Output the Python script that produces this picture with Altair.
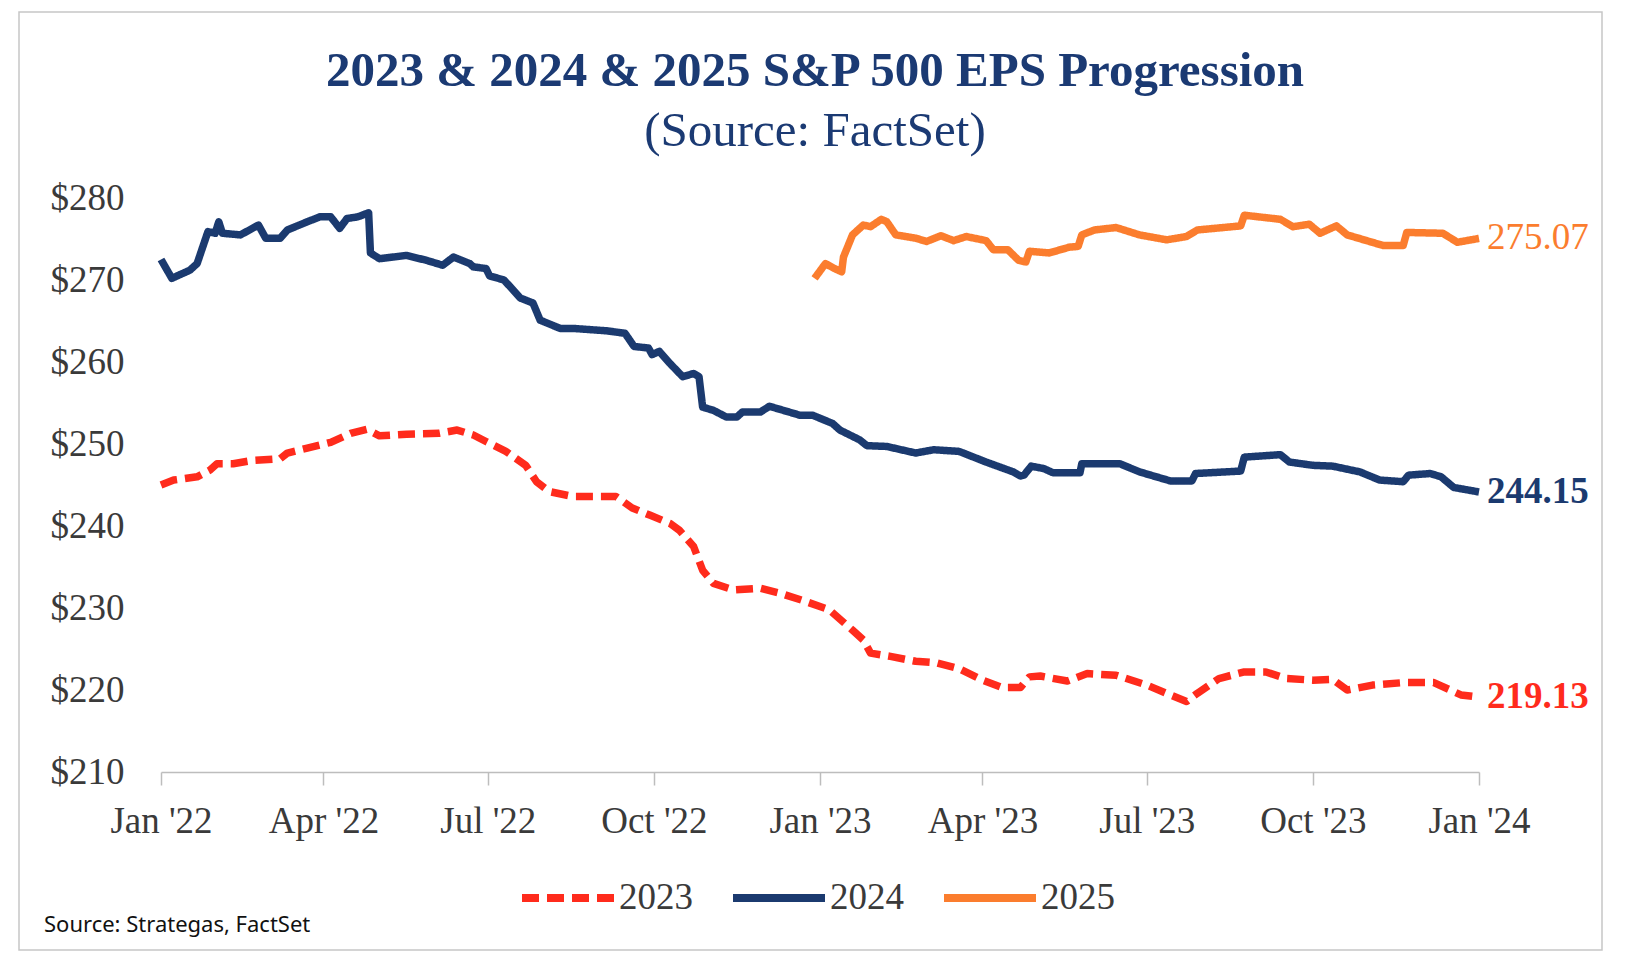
import altair as alt
import pandas as pd

SERIF = "'Palatino Linotype', 'Book Antiqua', Palatino, 'Liberation Serif', serif"

# ---- 2023 EPS estimate (red, dashed) ----
dates_2023 = ["2022-01-01", "2022-01-08", "2022-01-21", "2022-01-28", "2022-02-01", "2022-02-10",
              "2022-02-21", "2022-03-08", "2022-03-12", "2022-03-23", "2022-04-05", "2022-04-16",
              "2022-04-25", "2022-05-02", "2022-05-17", "2022-06-04", "2022-06-14", "2022-06-23",
              "2022-06-30", "2022-07-11", "2022-07-22", "2022-07-28", "2022-08-04", "2022-08-17",
              "2022-09-05", "2022-09-10", "2022-09-19", "2022-09-29", "2022-10-10", "2022-10-15",
              "2022-10-23", "2022-10-28", "2022-11-03", "2022-11-14", "2022-11-29", "2022-12-10",
              "2022-12-24", "2023-01-06", "2023-01-19", "2023-01-25", "2023-01-29", "2023-02-09",
              "2023-02-23", "2023-03-07", "2023-03-19", "2023-04-01", "2023-04-12", "2023-04-22",
              "2023-04-27", "2023-05-03", "2023-05-18", "2023-05-29", "2023-06-14", "2023-07-01",
              "2023-07-14", "2023-07-23", "2023-07-29", "2023-08-10", "2023-08-24", "2023-09-05",
              "2023-09-16", "2023-10-01", "2023-10-12", "2023-10-20", "2023-11-03", "2023-11-20",
              "2023-12-07", "2023-12-16", "2023-12-22", "2024-01-01"]
eps_2023 = [245.0, 245.6, 246.0, 246.8, 247.6, 247.6,
            248.0, 248.2, 248.9, 249.5, 250.2, 251.3,
            251.8, 251.0, 251.2, 251.3, 251.7, 251.1,
            250.3, 249.1, 247.4, 245.4, 244.2, 243.6,
            243.6, 243.6, 242.2, 241.3, 240.3, 239.5,
            237.5, 234.6, 233.0, 232.2, 232.4, 231.8,
            230.8, 229.8, 227.3, 226.1, 224.5, 224.1,
            223.5, 223.3, 222.6, 221.2, 220.3, 220.3,
            221.6, 221.7, 221.1, 222.0, 221.8, 220.6,
            219.4, 218.6, 219.6, 221.4, 222.2, 222.2,
            221.4, 221.2, 221.3, 220.0, 220.6, 220.9,
            220.9, 220.0, 219.4, 219.13]

# ---- 2024 EPS estimate (navy) ----
dates_2024 = ["2022-01-01", "2022-01-07", "2022-01-17", "2022-01-21", "2022-01-27", "2022-01-31",
              "2022-02-02", "2022-02-04", "2022-02-14", "2022-02-24", "2022-02-28", "2022-03-08",
              "2022-03-12", "2022-03-23", "2022-03-30", "2022-04-05", "2022-04-10", "2022-04-14",
              "2022-04-20", "2022-04-26", "2022-04-27", "2022-05-02", "2022-05-17", "2022-05-28",
              "2022-06-06", "2022-06-12", "2022-06-21", "2022-06-23", "2022-06-30", "2022-07-02",
              "2022-07-10", "2022-07-19", "2022-07-26", "2022-07-30", "2022-08-10", "2022-08-17",
              "2022-09-05", "2022-09-15", "2022-09-20", "2022-09-28", "2022-09-30", "2022-10-04",
              "2022-10-10", "2022-10-17", "2022-10-23", "2022-10-26", "2022-10-28", "2022-11-03",
              "2022-11-10", "2022-11-16", "2022-11-19", "2022-11-29", "2022-12-04", "2022-12-21",
              "2022-12-28", "2023-01-08", "2023-01-12", "2023-01-23", "2023-01-27", "2023-02-07",
              "2023-02-23", "2023-03-05", "2023-03-19", "2023-04-03", "2023-04-18", "2023-04-22",
              "2023-04-24", "2023-04-28", "2023-05-05", "2023-05-10", "2023-05-25", "2023-05-26",
              "2023-06-16", "2023-06-27", "2023-07-14", "2023-07-26", "2023-07-28", "2023-08-22",
              "2023-08-24", "2023-09-13", "2023-09-18", "2023-10-01", "2023-10-12", "2023-10-27",
              "2023-11-07", "2023-11-20", "2023-11-23", "2023-12-05", "2023-12-11", "2023-12-18",
              "2024-01-01"]
eps_2024 = [272.5, 270.2, 271.2, 272.0, 275.9, 275.7,
            277.1, 275.7, 275.5, 276.7, 275.1, 275.1,
            276.1, 277.1, 277.7, 277.7, 276.3, 277.5,
            277.7, 278.2, 273.3, 272.6, 273.0, 272.4,
            271.8, 272.8, 272.0, 271.6, 271.4, 270.5,
            270.0, 267.8, 267.2, 265.1, 264.1, 264.1,
            263.8, 263.5, 261.9, 261.7, 260.9, 261.3,
            259.8, 258.2, 258.6, 258.2, 254.5, 254.1,
            253.3, 253.3, 253.9, 253.9, 254.6, 253.5,
            253.5, 252.5, 251.7, 250.5, 249.8, 249.7,
            248.9, 249.3, 249.1, 247.8, 246.6, 246.1,
            246.2, 247.3, 247.0, 246.5, 246.5, 247.6,
            247.6, 246.6, 245.5, 245.5, 246.4, 246.7,
            248.4, 248.7, 247.8, 247.4, 247.3, 246.6,
            245.6, 245.4, 246.2, 246.4, 246.0, 244.7,
            244.15]

# ---- 2025 EPS estimate (orange) ----
dates_2025 = ["2022-12-29", "2023-01-04", "2023-01-09", "2023-01-13", "2023-01-14", "2023-01-19",
              "2023-01-25", "2023-01-29", "2023-02-04", "2023-02-07", "2023-02-12", "2023-02-23",
              "2023-03-01", "2023-03-09", "2023-03-16", "2023-03-23", "2023-04-03", "2023-04-07",
              "2023-04-15", "2023-04-21", "2023-04-25", "2023-04-27", "2023-05-08", "2023-05-19",
              "2023-05-24", "2023-05-26", "2023-06-02", "2023-06-14", "2023-06-27", "2023-07-12",
              "2023-07-23", "2023-07-29", "2023-08-22", "2023-08-24", "2023-09-13", "2023-09-20",
              "2023-09-29", "2023-10-05", "2023-10-14", "2023-10-20", "2023-11-09", "2023-11-20",
              "2023-11-22", "2023-12-12", "2023-12-20", "2024-01-01"]
eps_2025 = [270.2, 272.0, 271.4, 271.0, 272.8, 275.5,
            276.7, 276.5, 277.4, 277.1, 275.5, 275.1,
            274.7, 275.4, 274.8, 275.3, 274.8, 273.7,
            273.7, 272.4, 272.2, 273.5, 273.3, 274.0,
            274.1, 275.5, 276.1, 276.4, 275.5, 274.9,
            275.3, 276.1, 276.6, 277.9, 277.4, 276.5,
            276.8, 275.7, 276.6, 275.5, 274.2, 274.2,
            275.8, 275.7, 274.6, 275.07]

series_names = ["2023", "2024", "2025"]
series_colors = ["#FF2B1C", "#1B3A6F", "#FB7D2E"]
y_ticks = [210, 220, 230, 240, 250, 260, 270, 280]
x_tick_dates = [(2022, 1), (2022, 4), (2022, 7), (2022, 10), (2023, 1),
                (2023, 4), (2023, 7), (2023, 10), (2024, 1)]
title_text = "2023 & 2024 & 2025 S&P 500 EPS Progression"
subtitle_text = "(Source: FactSet)"
source_text = "Source: Strategas, FactSet"

frames = []
for name, d, v in [("2023", dates_2023, eps_2023), ("2024", dates_2024, eps_2024),
                   ("2025", dates_2025, eps_2025)]:
    frames.append(pd.DataFrame({"date": d, "eps": v, "series": name}))
df = pd.concat(frames, ignore_index=True)

last = df.groupby("series").tail(1).reset_index(drop=True)

color_scale = alt.Scale(domain=series_names, range=series_colors)

x_enc = alt.X("date:T",
              scale=alt.Scale(type="utc",
                              domain=[alt.DateTime(year=2022, month=1, date=1, utc=True),
                                      alt.DateTime(year=2024, month=1, date=1, utc=True)]),
              axis=alt.Axis(values=[alt.DateTime(year=y, month=m, date=1, utc=True)
                                    for y, m in x_tick_dates],
                            format="%b '%y", title=None, grid=False,
                            domainColor="#BDBDBD", domainWidth=1.5,
                            tickColor="#BDBDBD", tickWidth=1.5, tickSize=13,
                            labelFont=SERIF, labelFontSize=37, labelColor="#3a3a3a",
                            labelPadding=18, labelFlush=False, labelOverlap=False))
y_enc = alt.Y("eps:Q",
              scale=alt.Scale(domain=[210, 280], nice=False, zero=False),
              axis=alt.Axis(values=y_ticks, labelExpr="'$' + datum.value", title=None,
                            grid=False, domain=False, ticks=False,
                            labelFont=SERIF, labelFontSize=37, labelColor="#3a3a3a",
                            labelPadding=37))
legend_kw = dict(title=None, orient="none", legendX=357, legendY=650, direction="horizontal")
color_enc = alt.Color("series:N", scale=color_scale, legend=alt.Legend(**legend_kw))
dash_enc = alt.StrokeDash("series:N",
                          scale=alt.Scale(domain=series_names, range=[[17, 8], [1, 0], [1, 0]]),
                          legend=alt.Legend(**legend_kw))

lines = alt.Chart(df).mark_line(strokeJoin="round", strokeWidth=7.5).encode(
    x=x_enc, y=y_enc, color=color_enc, strokeDash=dash_enc,
    order="date:T")

labels_bold = alt.Chart(last).transform_filter("datum.series != '2025'").mark_text(
    align="left", baseline="middle", dx=8, font=SERIF, fontSize=37, fontWeight="bold"
).encode(x="date:T", y="eps:Q", text=alt.Text("eps:Q", format=".2f"),
         color=alt.Color("series:N", scale=color_scale, legend=None))
labels_norm = alt.Chart(last).transform_filter("datum.series == '2025'").mark_text(
    align="left", baseline="middle", dx=8, font=SERIF, fontSize=37, fontWeight="normal"
).encode(x="date:T", y="eps:Q", text=alt.Text("eps:Q", format=".2f"),
         color=alt.Color("series:N", scale=color_scale, legend=None))

one = pd.DataFrame({"k": [0]})
frame = alt.Chart(one).mark_rect(fill=None, stroke="#C6C6C6", strokeWidth=1.5).encode(
    x=alt.value(-142), x2=alt.value(1441), y=alt.value(-186), y2=alt.value(752))
title = alt.Chart(one).mark_text(
    align="center", baseline="middle", font=SERIF, fontSize=49, fontWeight="bold",
    color="#1B3A73", text=title_text
).encode(x=alt.value(654), y=alt.value(-127))
subtitle = alt.Chart(one).mark_text(
    align="center", baseline="middle", font=SERIF, fontSize=49, fontWeight="normal",
    color="#1B3A73", text=subtitle_text
).encode(x=alt.value(654), y=alt.value(-67))
source = alt.Chart(one).mark_text(
    align="left", baseline="middle", font="'Noto Sans', sans-serif", fontSize=22,
    color="#111111", text=source_text
).encode(x=alt.value(-117), y=alt.value(727))

chart = alt.layer(frame, title, subtitle, lines, labels_bold, labels_norm, source).properties(
    width=1318, height=574,
    padding={"left": 153, "top": 190, "right": 140, "bottom": 180},
    autosize=alt.AutoSizeParams(type="none"),
    background="white"
).configure_view(stroke=None).configure_legend(
    symbolType="stroke", symbolSize=8464, symbolStrokeWidth=8,
    labelFont=SERIF, labelFontSize=37, labelColor="#3a3a3a",
    labelOffset=1, columnPadding=24, padding=0, symbolOpacity=1, labelLimit=0
)

chart.save("out.html", embed_options={"renderer": "svg", "actions": False})
